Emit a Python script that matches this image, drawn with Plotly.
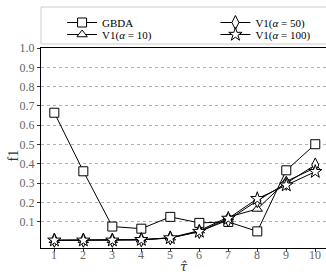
import plotly.graph_objects as go

tau = [1, 2, 3, 4, 5, 6, 7, 8, 9, 10]
gbda = [0.665, 0.362, 0.076, 0.065, 0.126, 0.095, 0.100, 0.051, 0.367, 0.502]
v1_a10 = [0.005, 0.005, 0.005, 0.008, 0.018, 0.055, 0.125, 0.167, 0.310, 0.380]
v1_a50 = [0.005, 0.005, 0.005, 0.007, 0.017, 0.050, 0.110, 0.210, 0.300, 0.395]
v1_a100 = [0.005, 0.005, 0.005, 0.008, 0.017, 0.050, 0.118, 0.220, 0.290, 0.360]
ytick_vals = [0.1, 0.2, 0.3, 0.4, 0.5, 0.6, 0.7, 0.8, 0.9, 1.0]
xtick_labels = [str(t) for t in tau]

FONT = "Liberation Serif"

def tr(y, name, symbol, size, legend):
    return go.Scatter(
        x=tau, y=y, name=name, mode="lines+markers", legend=legend,
        line=dict(color="black", width=1),
        marker=dict(symbol=symbol, size=size, color="white",
                    line=dict(color="black", width=1)),
    )

fig = go.Figure()
fig.add_trace(tr(gbda, "GBDA", "square", 9, "legend"))
fig.add_trace(tr(v1_a10, "V1(<i>α</i> = 10)", "triangle-up", 9, "legend2"))
fig.add_trace(tr(v1_a50, "V1(<i>α</i> = 50)", "diamond-tall", 10, "legend3"))
fig.add_trace(tr(v1_a100, "V1(<i>α</i> = 100)", "star", 10, "legend4"))

def leg(x, y):
    return dict(
        orientation="v", x=x, xanchor="left", y=y, yanchor="top",
        bgcolor="rgba(0,0,0,0)", borderwidth=0,
        font=dict(family=FONT, size=11, color="black"),
        itemwidth=30,
    )

# x tick labels placed just under the axis (as text, on the x data scale)
tick_annots = [
    dict(text=lab, x=t, xref="x", y=-0.036, yref="paper",
         xanchor="center", yanchor="middle", showarrow=False,
         font=dict(family=FONT, size=12, color="#666666"))
    for t, lab in zip(tau, xtick_labels)
]

fig.update_layout(
    width=326, height=275,
    margin=dict(l=41, r=0, t=48, b=27, autoexpand=False),
    paper_bgcolor="white", plot_bgcolor="white",
    font=dict(family=FONT, size=12, color="black"),
    showlegend=True,
    legend=leg(0.074, 1.2),
    legend2=leg(0.074, 1.14),
    legend3=leg(0.612, 1.2),
    legend4=leg(0.612, 1.14),
    xaxis=dict(
        range=[0.54, 10.37], tickvals=tau, ticks="outside", ticklen=3,
        tickcolor="#333", showgrid=False, zeroline=False,
        showline=True, linecolor="black", linewidth=1.3, mirror=True,
        showticklabels=False,
    ),
    yaxis=dict(
        range=[-0.035, 1.0], tickvals=ytick_vals, tickformat=".1f",
        ticks="outside", ticklen=3, tickcolor="#333",
        showgrid=True, gridcolor="#b0b0b0", griddash="dot", gridwidth=1,
        zeroline=False, showline=True, linecolor="black", linewidth=1.3,
        mirror=False,
        tickfont=dict(family=FONT, size=12, color="#666666"),
    ),
    shapes=[
        dict(type="rect", xref="paper", yref="paper",
             x0=0.0, x1=1.02, y0=1.02, y1=1.205,
             line=dict(color="#cccccc", width=1), fillcolor="rgba(0,0,0,0)"),
    ],
    annotations=tick_annots + [
        dict(text="<i>τ̂</i>", xref="paper", yref="paper", x=0.5, y=-0.09,
             xanchor="center", yanchor="middle", showarrow=False,
             font=dict(family="DejaVu Serif", size=13, color="#333333")),
        dict(text="f1", xref="paper", yref="paper", x=-0.1, y=0.46,
             xanchor="center", yanchor="middle", showarrow=False, textangle=-90,
             font=dict(family=FONT, size=14, color="#333333")),
    ],
)

fig.write_html("out.html", config={"displayModeBar": False},
               post_script="document.body.style.margin='0';")
